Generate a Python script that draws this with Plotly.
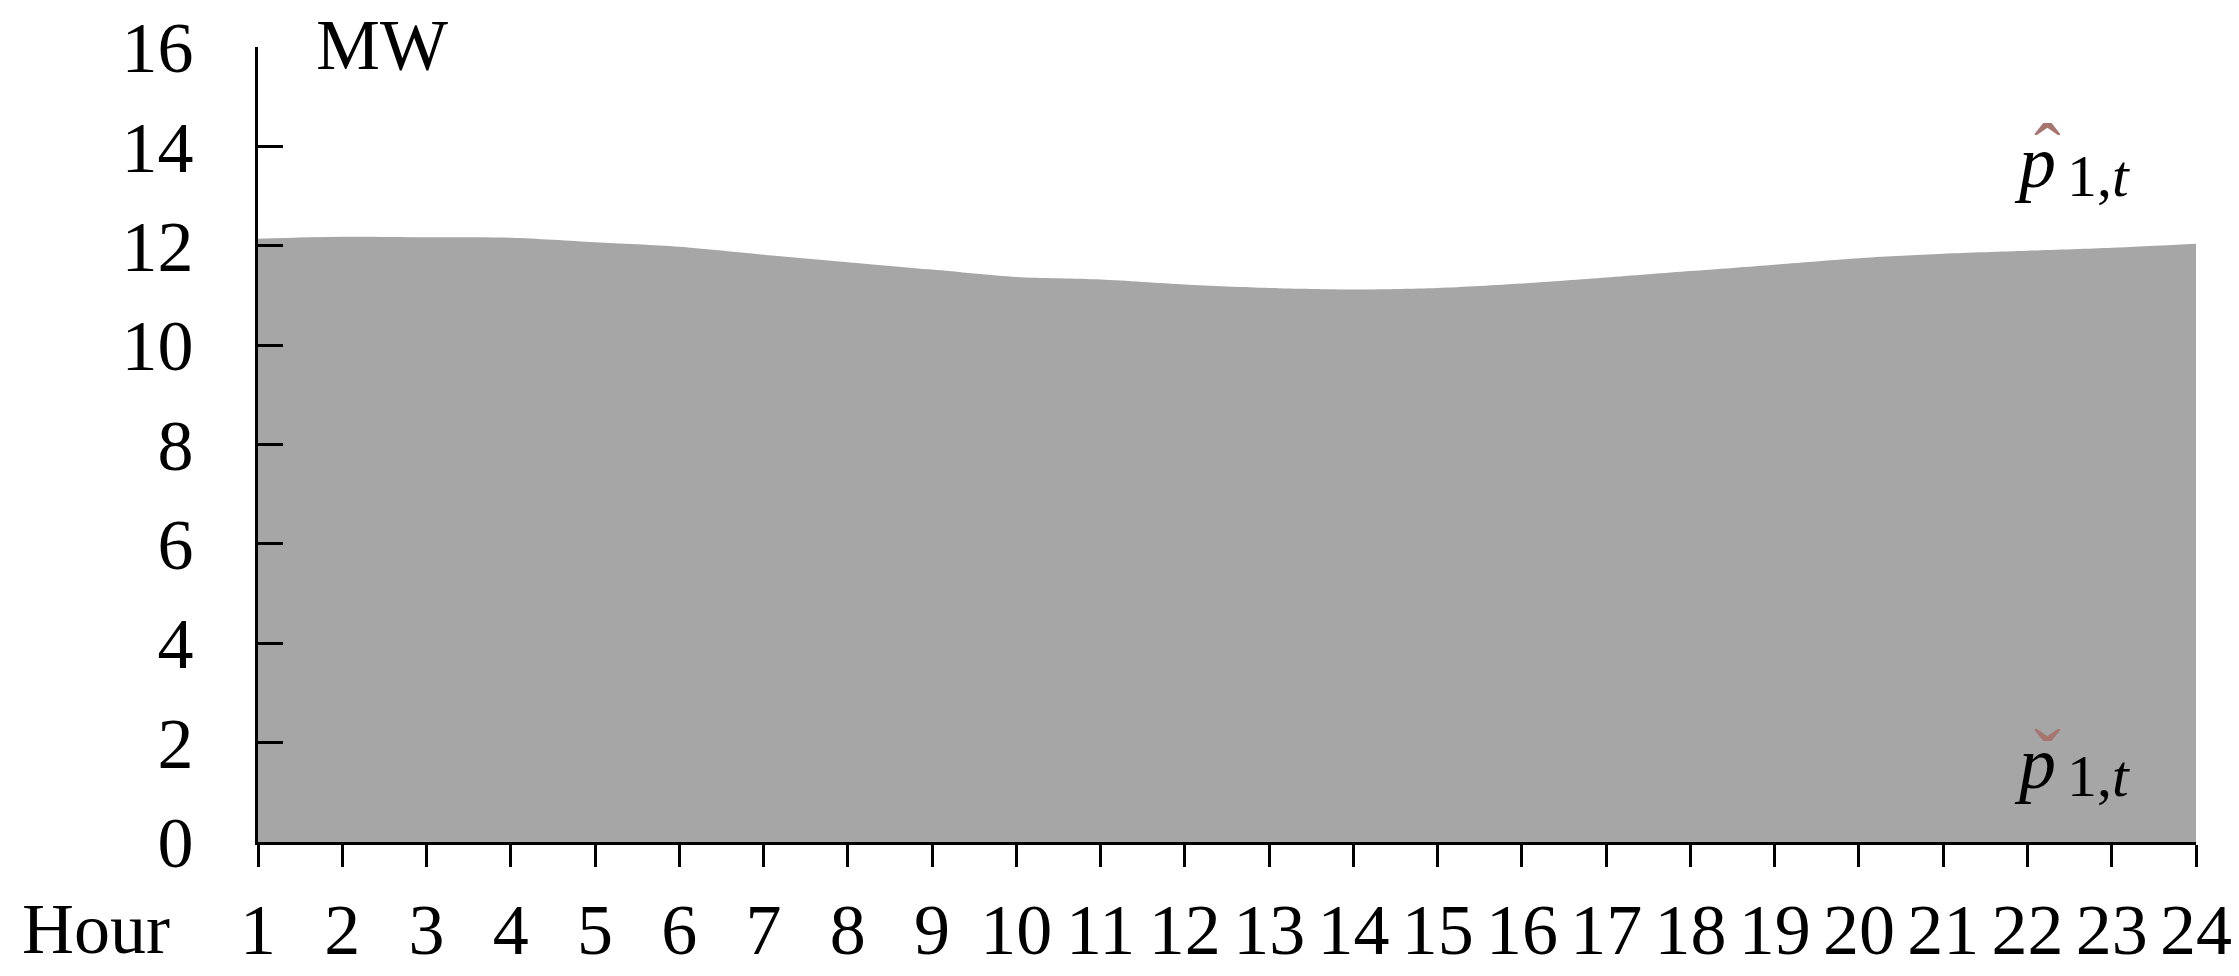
import plotly.graph_objects as go

hours = list(range(1, 25))
upper_mw = [12.14, 12.18, 12.17, 12.16, 12.07, 11.98, 11.82, 11.67, 11.52, 11.37,
            11.32, 11.22, 11.15, 11.12, 11.15, 11.24, 11.36, 11.49, 11.62, 11.75,
            11.84, 11.90, 11.96, 12.04]
y_ticks = [0, 2, 4, 6, 8, 10, 12, 14, 16]
x_tick_labels = [str(h) for h in hours]

FONT = "Liberation Serif"
FS = 72

fig = go.Figure()
fig.add_trace(go.Scatter(
    x=hours, y=upper_mw, mode="lines", line=dict(width=0, shape="spline", smoothing=0.8),
    fill="tozeroy", fillcolor="#a6a6a6", hoverinfo="skip", showlegend=False))

# page body has an 8px margin, so the figure is sized to fit the 2239x976 window
fig.update_layout(
    width=2231, height=968,
    margin=dict(l=250, r=43, t=39, b=134),
    paper_bgcolor="white", plot_bgcolor="white",
    font=dict(family=FONT, size=FS, color="black"),
    xaxis=dict(range=[1, 24], tickvals=hours, ticktext=x_tick_labels,
               showline=True, linecolor="black", linewidth=3,
               ticks="outside", ticklen=22, tickwidth=3, tickcolor="black",
               showgrid=False, zeroline=False, ticklabelstandoff=1,
               automargin=False),
    yaxis=dict(range=[0, 16], tickvals=y_ticks,
               showline=True, linecolor="black", linewidth=3,
               ticks="inside", ticklen=25, tickwidth=3, tickcolor="black",
               showgrid=False, zeroline=False, ticklabelstandoff=47,
               automargin=False),
)

fig.add_annotation(text="Hour", xref="paper", yref="paper", x=-0.0835, y=-0.109,
                   xanchor="center", yanchor="middle", showarrow=False,
                   font=dict(family=FONT, size=FS))
fig.add_annotation(text="MW", xref="paper", yref="paper", x=0.029, y=1.003,
                   xanchor="left", yanchor="middle", showarrow=False,
                   font=dict(family=FONT, size=FS))

MATH = "Liberation Serif"
HAT_COLOR = "#a87470"
# upper bound label
fig.add_annotation(text="<i>p</i>", x=21.815, y=13.68, xanchor="left", yanchor="middle",
                   showarrow=False, font=dict(family=MATH, size=74))
fig.add_annotation(text="1,<i>t</i>", x=22.45, y=13.41, xanchor="left", yanchor="middle",
                   showarrow=False, font=dict(family=MATH, size=60))
fig.add_annotation(text="\u02c6", x=22.24, y=13.89, xanchor="center", yanchor="middle",
                   showarrow=False, font=dict(family=MATH, size=80, color=HAT_COLOR))
# lower bound label
fig.add_annotation(text="<i>p</i>", x=21.815, y=1.60, xanchor="left", yanchor="middle",
                   showarrow=False, font=dict(family=MATH, size=74))
fig.add_annotation(text="1,<i>t</i>", x=22.45, y=1.32, xanchor="left", yanchor="middle",
                   showarrow=False, font=dict(family=MATH, size=60))
fig.add_annotation(text="\u02c7", x=22.24, y=1.70, xanchor="center", yanchor="middle",
                   showarrow=False, font=dict(family=MATH, size=80, color=HAT_COLOR))

fig.write_html("out.html")
